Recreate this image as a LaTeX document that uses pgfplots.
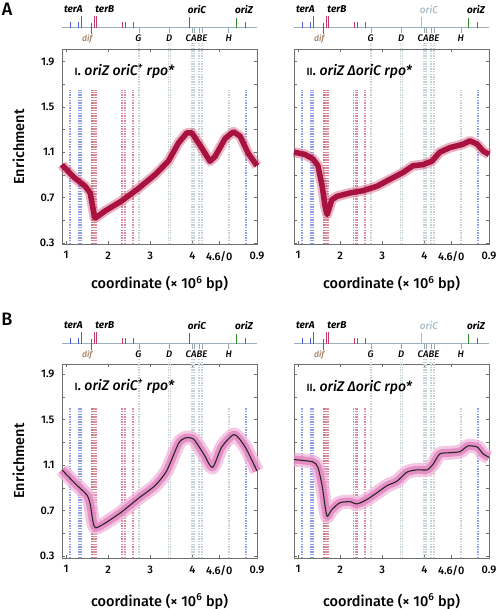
\documentclass[border=0pt]{standalone}
\usepackage{pgfplots}
\usepackage{pgfplotstable}
\pgfplotsset{compat=1.18}
\usepackage{fontspec}
\setmainfont{Fira Sans}[UprightFont={* Medium}, ItalicFont={* Medium Italic}, BoldFont={* Bold}, BoldItalicFont={* Bold Italic}]
\definecolor{axgray}{HTML}{6E6E6E}
\definecolor{dblue}{HTML}{8E9CEC}
\definecolor{dred}{HTML}{DE89A2}
\definecolor{dbrown}{HTML}{C0807A}
\definecolor{dgray}{HTML}{C6D1D6}
\definecolor{mblue}{HTML}{4C5CD8}
\definecolor{mred}{HTML}{C63A68}
\definecolor{mgreen}{HTML}{2F8A2F}
\definecolor{mgray}{HTML}{94A6AE}
\definecolor{mbrown}{HTML}{8A5C3A}
\definecolor{mline}{HTML}{9CAEB8}
\definecolor{crim}{HTML}{A8123E}
\definecolor{crimlight}{HTML}{CF5A80}
\definecolor{pinkc}{HTML}{E07CBC}
\definecolor{pinklight}{HTML}{F0B4DA}
\definecolor{oricgray}{HTML}{A6BCC6}

% panel A-I : oriZ oriC+ rpo*
\pgfplotstableread{
u v
0.90 0.99
0.93 0.975
1.21 0.87
1.45 0.80
1.57 0.74
1.62 0.64
1.67 0.53
1.70 0.52
1.92 0.58
2.32 0.67
2.72 0.78
3.11 0.90
3.43 1.02
3.67 1.18
3.87 1.27
3.99 1.27
4.22 1.14
4.42 1.02
4.54 1.06
4.78 1.22
4.98 1.28
5.14 1.24
5.33 1.09
5.54 0.98
}\dataAI
% panel A-II : oriZ DeltaoriC rpo*
\pgfplotstableread{
u v
0.90 1.10
1.16 1.08
1.35 1.04
1.47 0.98
1.57 0.80
1.64 0.62
1.69 0.55
1.80 0.68
1.92 0.71
2.23 0.74
2.54 0.76
2.88 0.80
3.18 0.86
3.49 0.92
3.73 0.98
3.97 0.99
4.18 1.02
4.37 1.10
4.61 1.14
4.92 1.17
5.09 1.20
5.26 1.17
5.40 1.11
5.54 1.08
}\dataAII
% panel B-I
\pgfplotstableread{
u v
0.90 1.06
1.21 0.94
1.49 0.84
1.57 0.76
1.64 0.60
1.70 0.55
1.92 0.59
2.32 0.69
2.72 0.81
3.11 0.92
3.39 1.05
3.67 1.29
3.83 1.34
4.03 1.33
4.27 1.20
4.48 1.08
4.70 1.26
5.00 1.37
5.26 1.26
5.54 1.05
}\dataBI
% panel B-II
\pgfplotstableread{
u v
0.90 1.15
1.35 1.13
1.47 1.08
1.57 0.92
1.64 0.74
1.69 0.65
1.80 0.71
1.99 0.77
2.23 0.78
2.40 0.76
2.64 0.80
2.88 0.86
3.11 0.92
3.35 0.96
3.59 1.04
3.83 1.06
4.07 1.06
4.21 1.11
4.37 1.20
4.61 1.21
4.85 1.22
5.04 1.27
5.26 1.26
5.40 1.20
5.54 1.17
}\dataBII

\newcommand\vpair[4]{%
  \draw[#2,line width=0.4pt,dash pattern=on 1.3pt off 1.3pt,xshift=-0.6pt] (axis cs:#1,#4) -- (axis cs:#1,#3);
  \draw[#2,line width=0.4pt,dash pattern=on 1.3pt off 1.3pt,xshift=0.6pt] (axis cs:#1,#4) -- (axis cs:#1,#3);}
% #1 partial top, #2 full top, #3 bottom
\newcommand\vlines[3]{%
  \vpair{1.09}{dblue}{#1}{#3}
  \vpair{1.30}{dblue}{#1}{#3}
  \vpair{1.35}{dblue}{#1}{#3}
  \vpair{1.61}{dbrown}{#1}{#3}
  \vpair{1.66}{dred}{#1}{#3}
  \vpair{1.71}{dred}{#1}{#3}
  \vpair{2.33}{dred}{#1}{#3}
  \vpair{2.40}{dred}{#1}{#3}
  \vpair{2.59}{dred}{#1}{#3}
  \vpair{2.73}{dgray}{#2}{#3}
  \vpair{3.45}{dgray}{#2}{#3}
  \vpair{3.99}{dgray}{#2}{#3}
  \vpair{4.04}{dgray}{#2}{#3}
  \vpair{4.16}{dgray}{#2}{#3}
  \vpair{4.23}{dgray}{#2}{#3}
  \vpair{4.87}{dgray}{#1}{#3}
  \vpair{5.27}{dblue}{#1}{#3}}
\newcommand\gtick[1]{\draw[mgray,line width=0.7pt] (axis cs:#1,0) -- (axis cs:#1,-0.5);}
% genome map; #1 = colour of oriC tick, #2 = oriC label style
\newcommand\genmap[2]{%
  \draw[mline,line width=0.8pt] (axis cs:0.9,0) -- (axis cs:5.54,0);
  \draw[mblue,line width=0.8pt] (axis cs:1.09,0) -- (axis cs:1.09,0.6);
  \draw[mblue,line width=0.8pt] (axis cs:1.30,0) -- (axis cs:1.30,0.6);
  \draw[mblue,line width=0.8pt] (axis cs:1.35,0) -- (axis cs:1.35,1.2);
  \draw[mbrown,line width=0.8pt] (axis cs:1.61,0.45) -- (axis cs:1.61,-0.6);
  \draw[mred,line width=0.8pt] (axis cs:1.66,0) -- (axis cs:1.66,1.2);
  \draw[mred,line width=0.8pt] (axis cs:1.71,0) -- (axis cs:1.71,1.2);
  \draw[mred,line width=0.8pt] (axis cs:2.33,0) -- (axis cs:2.33,0.6);
  \draw[mred,line width=0.8pt] (axis cs:2.40,0) -- (axis cs:2.40,0.6);
  \draw[mred,line width=0.8pt] (axis cs:2.59,0) -- (axis cs:2.59,0.6);
  \draw[#1,line width=0.8pt] (axis cs:3.92,0) -- (axis cs:3.92,1.05);
  \draw[mgreen,line width=0.8pt] (axis cs:5.04,0) -- (axis cs:5.04,1.0);
  \draw[mblue,line width=0.8pt] (axis cs:5.27,0) -- (axis cs:5.27,0.6);
  \gtick{2.73}\gtick{3.45}\gtick{3.99}\gtick{4.04}\gtick{4.16}\gtick{4.23}\gtick{4.87}
  \node[font=\fontsize{10}{12}\selectfont\bfseries\itshape] at (axis cs:1.17,1.85) {terA};
  \node[font=\fontsize{10}{12}\selectfont\bfseries\itshape] at (axis cs:1.92,1.85) {terB};
  \node[#2] at (axis cs:4.11,1.85) {oriC};
  \node[font=\fontsize{10}{12}\selectfont\bfseries\itshape] at (axis cs:5.23,1.85) {oriZ};
  \node[font=\fontsize{8.5}{10}\selectfont\itshape,text=mbrown!80] at (axis cs:1.50,-1.1) {dif};
  \node[font=\fontsize{9.5}{11}\selectfont\itshape] at (axis cs:2.72,-1.1) {G};
  \node[font=\fontsize{9.5}{11}\selectfont\itshape] at (axis cs:3.45,-1.1) {D};
  \node[font=\fontsize{9.5}{11}\selectfont\itshape] at (axis cs:4.10,-1.1) {CABE};
  \node[font=\fontsize{9.5}{11}\selectfont\itshape] at (axis cs:4.87,-1.1) {H};}

\pgfplotsset{
  panel/.style={scale only axis, width=195pt, xmin=0.9, xmax=5.54, clip=false,
    anchor=south west,
    axis line style={axgray, line width=0.6pt},
    tick style={axgray, line width=0.6pt}, tick align=inside, major tick length=3pt,
    xtick={1,2,3,4,4.64,5.54}, xticklabels={1,2,3,4,4.6/0,0.9},
    ytick={0.3,0.5,0.7,0.9,1.1,1.3,1.5,1.7,1.9},
    yticklabels={0.3,,0.7,,1.1,,1.5,,1.9},
    ticklabel style={font=\fontsize{11}{12}\selectfont},
    xticklabel style={yshift=-4pt}, yticklabel style={xshift=-4pt},
    /pgf/number format/assume math mode=true},
  mapax/.style={scale only axis, width=195pt, height=30pt, xmin=0.9, xmax=5.54,
    ymin=-1.5, ymax=1.5, axis lines=none, clip=false, anchor=south west},
  bandA/.style={line join=round, line cap=butt, no marks},
}
\newcommand\xlab{coordinate (× 10\textsuperscript{6} bp)}
\newcommand\titleI{{\fontsize{10.5}{12}\selectfont I}. \textit{oriZ oriC\textsuperscript{+} rpo*}}
\newcommand\titleII{{\fontsize{10.5}{12}\selectfont II}. \textit{oriZ ΔoriC rpo*}}

\begin{document}
\begin{tikzpicture}
\useasboundingbox (0,0) rectangle (496pt,609pt);
% ---------- labels A / B ----------
\node[font=\fontsize{18}{20}\selectfont] at (7pt,600pt) {A};
\node[font=\fontsize{18}{20}\selectfont] at (7pt,290pt) {B};
% ---------- maps ----------
\begin{axis}[mapax, at={(62pt,566.3pt)}]
\genmap{mgreen}{font=\fontsize{10}{12}\selectfont\bfseries\itshape}
\end{axis}
\begin{axis}[mapax, at={(294pt,566.3pt)}]
\genmap{oricgray}{font=\fontsize{10}{12}\selectfont\itshape,text=oricgray}
\end{axis}
\begin{axis}[mapax, at={(62pt,250.3pt)}]
\genmap{mgreen}{font=\fontsize{10}{12}\selectfont\bfseries\itshape}
\end{axis}
\begin{axis}[mapax, at={(294pt,250.3pt)}]
\genmap{oricgray}{font=\fontsize{10}{12}\selectfont\itshape,text=oricgray}
\end{axis}
% ---------- A-I ----------
\begin{axis}[panel, at={(62pt,365pt)}, height=195pt, ymin=0.29, ymax=2.01]
\vlines{1.65}{2.06}{0.29}
\addplot[bandA, crimlight, line width=10pt, opacity=0.45] table[x=u,y=v] {\dataAI};
\addplot[bandA, crim, line width=5.5pt] table[x=u,y=v] {\dataAI};
\end{axis}
% ---------- A-II ----------
\begin{axis}[panel, at={(294pt,365pt)}, height=195pt, ymin=0.29, ymax=2.01,
  yticklabels={,,,,,,,,}]
\vlines{1.65}{2.06}{0.29}
\addplot[bandA, crimlight, line width=10pt, opacity=0.45] table[x=u,y=v] {\dataAII};
\addplot[bandA, crim, line width=5.5pt] table[x=u,y=v] {\dataAII};
\end{axis}
% ---------- B-I ----------
\begin{axis}[panel, at={(62pt,51pt)}, height=194pt, ymin=0.285, ymax=1.99]
\vlines{1.61}{2.03}{0.285}
\addplot[bandA, pinklight, line width=14pt, opacity=0.75, smooth, tension=0.4] table[x=u,y=v] {\dataBI};
\addplot[bandA, pinkc, line width=8pt, opacity=0.75, smooth, tension=0.4] table[x=u,y=v] {\dataBI};
\addplot[bandA, black!85, line width=1.1pt, smooth, tension=0.4] table[x=u,y=v] {\dataBI};
\end{axis}
% ---------- B-II ----------
\begin{axis}[panel, at={(294pt,51pt)}, height=194pt, ymin=0.285, ymax=1.99,
  yticklabels={,,,,,,,,}]
\vlines{1.61}{2.03}{0.285}
\addplot[bandA, pinklight, line width=14pt, opacity=0.75, smooth, tension=0.4] table[x=u,y=v] {\dataBII};
\addplot[bandA, pinkc, line width=8pt, opacity=0.75, smooth, tension=0.4] table[x=u,y=v] {\dataBII};
\addplot[bandA, black!85, line width=1.1pt, smooth, tension=0.4] table[x=u,y=v] {\dataBII};
\end{axis}
% ---------- titles & axis labels ----------
\node[anchor=west,font=\fontsize{14}{15}\selectfont] at (71pt,538pt) {\titleI};
\node[anchor=west,font=\fontsize{14}{15}\selectfont] at (303pt,538pt) {\titleII};
\node[anchor=west,font=\fontsize{14}{15}\selectfont] at (71pt,223pt) {\titleI};
\node[anchor=west,font=\fontsize{14}{15}\selectfont] at (303pt,222pt) {\titleII};
\node[font=\fontsize{14.5}{16}\selectfont] at (159.5pt,325pt) {\xlab};
\node[font=\fontsize{14.5}{16}\selectfont] at (391.5pt,325pt) {\xlab};
\node[font=\fontsize{14.5}{16}\selectfont] at (159.5pt,7.5pt) {\xlab};
\node[font=\fontsize{14.5}{16}\selectfont] at (391.5pt,7.5pt) {\xlab};
\node[font=\fontsize{14.5}{16}\selectfont,rotate=90] at (18.5pt,462pt) {Enrichment};
\node[font=\fontsize{14.5}{16}\selectfont,rotate=90] at (18.5pt,148pt) {Enrichment};
\end{tikzpicture}
\end{document}
